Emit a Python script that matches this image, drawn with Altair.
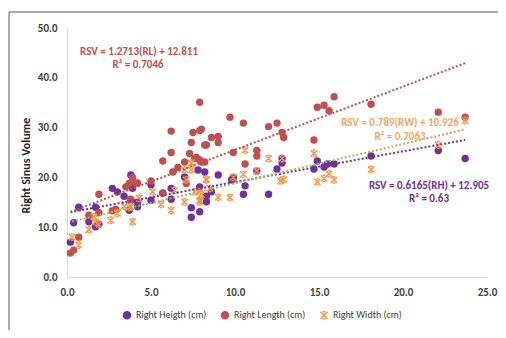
import altair as alt
import pandas as pd

# ---- data ----
series_names = ["Right Heigth (cm)", "Right Length (cm)", "Right Width (cm)"]

height_x = [0.2, 0.4, 0.7, 1.3, 1.7, 1.7, 1.9, 2.7, 3.0, 3.4, 3.8, 4.2, 3.7, 3.9, 3.8, 5.0, 5.7, 6.2, 6.2, 7.0,
            7.8, 8.2, 7.4, 7.4, 7.9, 5.0, 4.2, 8.3, 9.0, 7.9, 8.3, 8.6, 9.8, 9.9, 10.6, 10.5, 12.0, 12.5, 11.3,
            12.8, 12.8, 14.9, 14.7, 15.3, 15.5, 15.9, 18.1, 22.1, 23.7]
height_y = [7.0, 10.9, 14.0, 11.1, 14.0, 10.1, 10.6, 17.8, 17.1, 16.2, 20.5, 14.1, 13.4, 17.8, 15.4, 15.4, 16.9, 15.6, 17.8, 20.1,
            21.5, 21.1, 13.9, 12.0, 13.1, 18.5, 15.0, 15.1, 20.5, 18.1, 16.2, 17.1, 19.5, 20.0, 18.3, 16.6, 16.6, 21.7, 21.3,
            23.8, 22.9, 23.3, 21.7, 22.1, 22.7, 22.7, 24.3, 25.4, 23.8]

length_x = [0.2, 0.4, 0.7, 1.3, 1.9, 1.9, 2.7, 2.9, 3.5, 3.7, 3.9, 4.1, 3.8, 6.2, 7.5, 7.9, 7.4, 6.2, 7.3, 5.7,
            7.7, 8.0, 8.2, 6.6, 6.3, 5.0, 4.2, 7.1, 8.2, 7.9, 9.7, 10.5, 12.0, 12.5, 8.0, 9.0, 8.6, 9.0, 8.3,
            9.9, 11.3, 11.3, 10.6, 7.9, 12.8, 12.9, 15.9, 15.3, 14.9, 15.6, 14.7, 18.1, 22.1, 23.7, 5.7, 7.0, 7.6]
length_y = [4.8, 5.4, 8.0, 12.4, 12.9, 16.6, 13.3, 13.6, 18.1, 18.8, 20.0, 18.9, 15.6, 29.3, 29.0, 29.4, 27.0, 25.0, 24.8, 23.3,
            24.0, 23.1, 23.1, 22.0, 21.1, 19.3, 18.9, 18.8, 26.5, 35.1, 32.1, 30.9, 30.2, 30.9, 29.7, 28.2, 28.0, 27.0, 26.5,
            25.0, 25.4, 24.3, 22.7, 23.5, 29.0, 28.0, 36.2, 34.5, 34.1, 33.4, 27.5, 34.7, 33.1, 32.1, 16.8, 23.1, 23.8]

width_x = [0.3, 0.7, 1.3, 1.7, 1.9, 1.6, 2.6, 3.9, 3.0, 3.4, 3.7, 4.3, 3.8, 5.1, 5.6, 6.2, 6.4, 7.0, 7.1, 7.4,
           7.4, 7.6, 7.9, 8.0, 8.3, 7.0, 10.6, 12.0, 8.3, 8.5, 9.9, 10.5, 11.3, 9.0, 9.7, 7.9, 7.9, 12.8, 12.7,
           12.9, 14.7, 14.9, 15.3, 15.6, 15.9, 18.1, 22.1, 23.7]
width_y = [8.0, 6.4, 9.5, 11.1, 10.6, 12.1, 11.4, 11.1, 12.8, 14.2, 14.0, 15.8, 14.1, 17.1, 14.6, 13.4, 17.4, 15.1, 19.5, 22.9,
           21.5, 17.1, 15.1, 16.6, 19.5, 21.5, 25.5, 23.8, 19.6, 17.8, 20.0, 20.6, 21.3, 16.0, 16.0, 17.1, 15.4, 23.8, 19.3,
           19.6, 24.8, 19.1, 19.8, 20.7, 19.5, 21.6, 26.5, 31.4]

# trendline coefficients printed on the chart
trend_slopes = [0.6165, 1.2713, 0.789]
trend_intercepts = [12.905, 12.811, 10.926]
trend_labels = [["RSV = 0.6165(RH) + 12.905", "R² = 0.63"],
                ["RSV = 1.2713(RL) + 12.811", "R² = 0.7046"],
                ["RSV = 0.789(RW) + 10.926", "R² = 0.7063"]]

x_ticks = [0, 5, 10, 15, 20, 25]
y_ticks = [0, 5, 10, 15, 20, 25, 30, 35, 40, 45, 50]

# ---- build tables ----
xs = [height_x, length_x, width_x]
ys = [height_y, length_y, width_y]
rows = []
for name, sx, sy in zip(series_names, xs, ys):
    for a, b in zip(sx, sy):
        rows.append({"series": name, "x": a, "y": b})
pts = pd.DataFrame(rows)

trows = []
for name, sx, m, c in zip(series_names, xs, trend_slopes, trend_intercepts):
    for xv in (min(sx), max(sx)):
        trows.append({"series": name, "x": xv, "y": m * xv + c})
trend = pd.DataFrame(trows)

FONT = "Liberation Sans Narrow, Carlito, Lato, sans-serif"
pt_colors = ["#7030A0", "#C0504D", "#F79646"]
line_colors = ["#7030A0", "#C0504D", "#9BBB59"]
text_colors = ["#7030A0", "#C0504D", "#F8A55E"]
xshape = "M-1,-1L1,1M1,-1L-1,1M-0.4,-1L0.4,-1M-0.4,1L0.4,1"

xscale = alt.Scale(domain=[0, 25], nice=False)
yscale = alt.Scale(domain=[0, 50], nice=False)

xaxis = alt.Axis(values=x_ticks, format=".1f", grid=False, ticks=False, title=None,
                 labelFont=FONT, labelFontSize=11, labelFontWeight="bold", labelColor="#404040",
                 labelPadding=9, domainColor="#D9D9D9", labelFlush=False)
yaxis = alt.Axis(values=y_ticks, format=".1f", grid=False, ticks=False, title="Right Sinus Volume",
                 labelFont=FONT, labelFontSize=11, labelFontWeight="bold", labelColor="#404040",
                 labelPadding=10, domainColor="#D9D9D9", titleFont=FONT, titleFontSize=12,
                 titleFontWeight="bold", titleColor="#262626", titlePadding=5, titleY=137)

points_circ = alt.Chart(pts).transform_filter(alt.datum.series != series_names[2]).mark_point(
    filled=True, opacity=1, size=55).encode(
    x=alt.X("x:Q", scale=xscale, axis=xaxis),
    y=alt.Y("y:Q", scale=yscale, axis=yaxis),
    color=alt.Color("series:N", scale=alt.Scale(domain=series_names, range=pt_colors),
                    legend=alt.Legend(title=None, orient="none", direction="horizontal",
                                      legendX=55, legendY=282, labelFont=FONT, labelFontSize=10,
                                      labelColor="#404040", symbolSize=50, columnPadding=11,
                                      labelOffset=4, symbolStrokeWidth=1.5)),
    shape=alt.Shape("series:N", scale=alt.Scale(domain=series_names, range=["circle", "circle", xshape])),
)
points_x = alt.Chart(pts).transform_filter(alt.datum.series == series_names[2]).mark_point(
    filled=False, opacity=1, size=40, strokeWidth=1.5).encode(
    x="x:Q", y="y:Q",
    color=alt.Color("series:N"),
    shape=alt.Shape("series:N"),
)

lines = []
for name, col in zip(series_names, line_colors):
    lines.append(alt.Chart(trend).transform_filter(alt.datum.series == name).mark_line(
        color=col, strokeDash=[2, 2], strokeWidth=2).encode(x="x:Q", y="y:Q"))

text_pos = [[(362, 158), (362, 171)], [(72, 24), (71, 37)], [(333, 95), (333, 109)]]
texts = []
one = pd.DataFrame({"k": [0]})
for lab, pos, col in zip(trend_labels, text_pos, text_colors):
    for s, (tx, ty) in zip(lab, pos):
        texts.append(alt.Chart(one).mark_text(text=s, font=FONT, fontSize=11, color=col,
                                              fontWeight="bold", align="center", baseline="middle").encode(
            x=alt.value(tx), y=alt.value(ty)))

frame = alt.Chart(one).mark_rect(fill=None, stroke="#595959", strokeWidth=1).encode(
    x=alt.value(-58), x2=alt.value(460), y=alt.value(-16), y2=alt.value(330))

chart = alt.layer(frame, points_circ, points_x, *lines, *texts).properties(
    width=420, height=249,
    autosize=alt.AutoSizeParams(type="none"),
    padding={"left": 59, "top": 20, "right": 11, "bottom": 53},
    background="white",
).configure_view(stroke=None)

chart.save("out.html", embed_options={"renderer": "svg", "actions": False})
